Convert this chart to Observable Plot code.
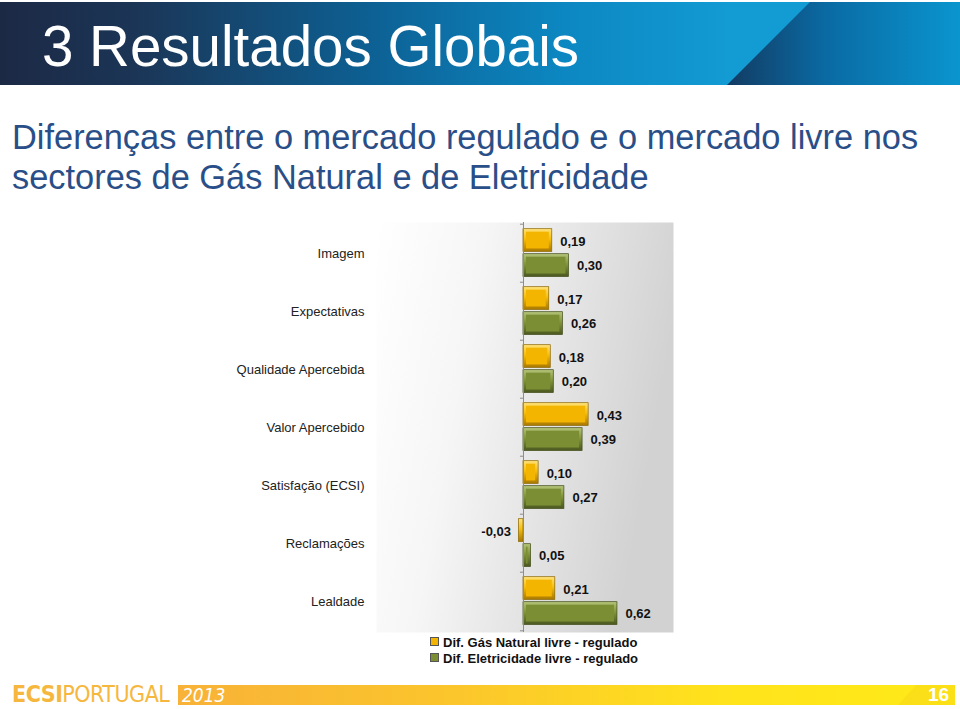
<!DOCTYPE html>
<html><head><meta charset="utf-8">
<script src="https://cdn.jsdelivr.net/npm/d3@7"></script>
<script src="https://cdn.jsdelivr.net/npm/@observablehq/plot@0.6"></script>
<style>
body{margin:0;width:960px;height:709px;position:relative;overflow:hidden;background:#fff;font-family:"Liberation Sans",Arial,sans-serif;}
#header{position:absolute;left:0;top:2px;width:960px;height:83px;background:linear-gradient(90deg,#1c2945 0%,#1b3556 14%,#0d5f92 38%,#0c86c0 58%,#139bd4 76%,#139bd4 100%);overflow:hidden;}
#diag{position:absolute;left:0;top:0;width:960px;height:83px;background:linear-gradient(90deg,#13385e 0%,#13385e 75%,#0a6aa3 86%,#0a95cf 100%);clip-path:polygon(727px 83px,810px 0px,960px 0px,960px 83px);}
#title{position:absolute;left:42px;top:19px;color:#fff;font-size:56.5px;line-height:56px;white-space:nowrap;}
#sub{position:absolute;left:12px;top:117px;color:#2a4f88;font-size:34.4px;line-height:40px;white-space:nowrap;}
#chart{position:absolute;left:0;top:215px;}
#legend{position:absolute;left:430px;top:635px;font-weight:bold;font-size:13px;color:#111;line-height:16px;}
#legend div{white-space:nowrap;}
#legend span.sw{display:inline-block;width:7px;height:7px;margin-right:4px;vertical-align:1px;border:1px solid #555;}
#footer{position:absolute;left:178px;top:685px;width:777px;height:20px;background:linear-gradient(90deg,#f8b238 0%,#fbc52c 35%,#ffe31c 70%,#ffea18 100%);}
#fdiag{position:absolute;left:0;top:0;width:777px;height:20px;background:linear-gradient(90deg,#f2cd10,#fbe018);clip-path:polygon(720px 20px,738px 0,777px 0,777px 20px);}
#logo{position:absolute;left:12px;top:682px;color:#f6b73f;font-family:"DejaVu Sans Condensed","DejaVu Sans",sans-serif;font-size:23px;line-height:24px;white-space:nowrap;letter-spacing:-0.5px;}
#logo b{font-weight:bold;}
#logo span{font-weight:300;}
#year{position:absolute;left:182px;top:684px;color:#fff;font-style:italic;font-size:19px;line-height:22px;font-family:"DejaVu Sans Condensed","DejaVu Sans",sans-serif;}
#page{position:absolute;left:928px;top:684px;color:#fff;font-weight:bold;font-size:19px;line-height:22px;}
</style></head>
<body>
<div id="header"><div id="diag"></div></div>
<div id="title">3 Resultados Globais</div>
<div id="sub">Diferenças entre o mercado regulado e o mercado livre nos<br>sectores de Gás Natural e de Eletricidade</div>
<div id="chart"></div>
<div id="legend"></div>
<div id="logo"><b>ECSI</b><span>PORTUGAL</span></div>
<div id="footer"><div id="fdiag"></div></div>
<div id="year">2013</div>
<div id="page">16</div>
<script>
const categories = ["Imagem","Expectativas","Qualidade Apercebida","Valor Apercebido","Satisfação (ECSI)","Reclamações","Lealdade"];
const gasNatural = [0.19,0.17,0.18,0.43,0.10,-0.03,0.21];
const eletricidade = [0.30,0.26,0.20,0.39,0.27,0.05,0.62];
const seriesNames = ["Dif. Gás Natural livre - regulado","Dif. Eletricidade livre - regulado"];
const seriesColors = ["#f2b400","#7b8e34"];

const gasData = categories.map((c,i)=>({cat:c, v:gasNatural[i]}));
const eleData = categories.map((c,i)=>({cat:c, v:eletricidade[i]}));

const W=960, H=425, mT=7, mB=8, mL=376, mR=287;
const band = (H-mT-mB)/categories.length;
const fmt = v => v.toFixed(2).replace(".", ",");

const gTop = 4.7, gBot = band-28;
const eTop = 29.7, eBot = 5.5;
const bev = 3;

function barsFor(data, top, bot, edge, face, stroke){
  return [
    Plot.barX(data, {x:"v", y:"cat", fill:`url(#${edge})`, stroke, strokeWidth:0.7, insetTop:top, insetBottom:bot}),
    Plot.barX(data, {x:"v", y:"cat", fill:face, insetTop:top+bev, insetBottom:bot+bev, insetLeft:bev, insetRight:bev})
  ];
}
function labelsFor(data, dy){
  return [
    Plot.text(data.filter(d=>d.v>=0), {x:"v", y:"cat", text:d=>fmt(d.v), dx:8, dy, textAnchor:"start", fontWeight:"bold", fontSize:13, fill:"#111"}),
    Plot.text(data.filter(d=>d.v<0), {x:"v", y:"cat", text:d=>fmt(d.v), dx:-8, dy, textAnchor:"end", fontWeight:"bold", fontSize:13, fill:"#111"})
  ];
}

const plot = Plot.plot({
  width:W, height:H, marginTop:mT, marginBottom:mB, marginLeft:mL, marginRight:mR,
  style:{fontFamily:"'Liberation Sans', Arial, sans-serif", fontSize:"13px", background:"transparent", overflow:"visible"},
  x:{domain:[-0.97,0.99], axis:null},
  y:{domain:categories, padding:0, label:null},
  marks:[
    Plot.frame({fill:"url(#bgGrad)", stroke:"none"}),
    Plot.axisY({tickSize:0, tickPadding:12, fontSize:13, fill:"#222", label:null}),
    ...barsFor(gasData, gTop, gBot, "goldEdge", "#f3b500", "#8a6500"),
    ...barsFor(eleData, eTop, eBot, "greenEdge", "#7b8e34", "#3f4a16"),
    Plot.ruleX([0], {stroke:"#8c8c8c", strokeWidth:1}),
    Plot.ruleY(categories, {y:d=>d, x1:-0.02, x2:0, dy:-band/2, stroke:"#8c8c8c"}),
    Plot.ruleY(categories.slice(-1), {y:d=>d, x1:-0.02, x2:0, dy:band/2, stroke:"#8c8c8c"}),
    ...labelsFor(gasData, -12),
    ...labelsFor(eleData, 12)
  ]
});

const svg = d3.select(plot);
const defs = svg.insert("defs", ":first-child");
function lg(id, stops, x2=0, y2=1){
  const g = defs.append("linearGradient").attr("id", id).attr("x1",0).attr("y1",0).attr("x2",x2).attr("y2",y2);
  stops.forEach(([o,c])=>g.append("stop").attr("offset",o).attr("stop-color",c));
}
lg("goldEdge", [[0,"#ffe27a"],[0.45,"#f5be10"],[1,"#a87800"]]);
lg("greenEdge", [[0,"#b3c47a"],[0.45,"#83963c"],[1,"#4a5820"]]);
lg("bgGrad", [[0,"#ffffff"],[0.35,"#f6f6f6"],[1,"#d2d2d2"]], 1, 0.25);
document.getElementById("chart").appendChild(plot);

const leg = d3.select("#legend");
seriesNames.forEach((n,i)=>{
  const row = leg.append("div");
  row.append("span").attr("class","sw").style("background", seriesColors[i]);
  row.append("span").text(n);
});
</script>
</body></html>
